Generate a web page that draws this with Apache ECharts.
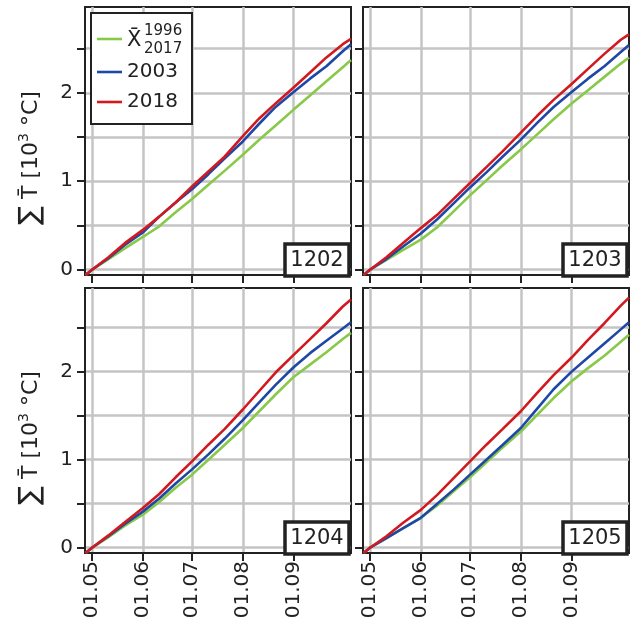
<!DOCTYPE html>
<html>
<head>
<meta charset="utf-8">
<script src="https://cdn.jsdelivr.net/npm/echarts@6/dist/echarts.min.js"></script>
<style>
  html, body { margin: 0; padding: 0; background: #fff; }
  #chart { width: 631px; height: 629px; }
</style>
</head>
<body>
<div id="chart"></div>
<script>
// Day of year for each sample point (1 May = 121 ... end of season)
const days = [117, 121, 131, 141, 152, 162, 172, 182, 192, 202, 213, 223, 233, 244, 254, 264, 274, 279];

// Month tick positions (day of year) and their labels
const tickDays = [121, 152, 182, 213, 244];
const tickLabels = ['01.05', '01.06', '01.07', '01.08', '01.09'];

// Y ticks (10^3 °C) and the labelled subset
const yTicks = [0, 0.5, 1, 1.5, 2, 2.5];
const yLabels = [0, 1, 2];

// Station ids
const stations = ['1202', '1203', '1204', '1205'];

// Series names
const seriesNames = ['mean 1996-2017', '2003', '2018'];

// Cumulative mean temperature sums, station 1202
const mean1202 = [-0.06, 0.0, 0.12, 0.24, 0.37, 0.49, 0.65, 0.80, 0.96, 1.12, 1.30, 1.47, 1.63, 1.81, 1.97, 2.13, 2.29, 2.37];
const y2003_1202 = [-0.06, 0.0, 0.13, 0.28, 0.42, 0.60, 0.76, 0.91, 1.08, 1.26, 1.45, 1.65, 1.84, 2.01, 2.16, 2.30, 2.47, 2.55];
const y2018_1202 = [-0.06, 0.0, 0.14, 0.30, 0.45, 0.60, 0.76, 0.94, 1.11, 1.28, 1.51, 1.71, 1.88, 2.06, 2.23, 2.40, 2.55, 2.61];

// Station 1203
const mean1203 = [-0.06, 0.0, 0.11, 0.22, 0.34, 0.48, 0.66, 0.84, 1.01, 1.18, 1.36, 1.53, 1.70, 1.88, 2.03, 2.18, 2.33, 2.40];
const y2003_1203 = [-0.06, 0.0, 0.12, 0.26, 0.41, 0.57, 0.75, 0.93, 1.10, 1.28, 1.47, 1.66, 1.84, 2.01, 2.16, 2.30, 2.46, 2.54];
const y2018_1203 = [-0.06, 0.0, 0.14, 0.30, 0.47, 0.62, 0.80, 0.98, 1.16, 1.34, 1.55, 1.74, 1.92, 2.10, 2.27, 2.44, 2.60, 2.66];

// Station 1204
const mean1204 = [-0.06, 0.0, 0.12, 0.25, 0.375, 0.52, 0.68, 0.83, 1.00, 1.17, 1.36, 1.55, 1.74, 1.94, 2.08, 2.22, 2.37, 2.44];
const y2003_1204 = [-0.06, 0.0, 0.13, 0.27, 0.41, 0.56, 0.73, 0.89, 1.06, 1.24, 1.45, 1.65, 1.85, 2.05, 2.21, 2.35, 2.49, 2.56];
const y2018_1204 = [-0.06, 0.0, 0.14, 0.29, 0.45, 0.61, 0.80, 0.98, 1.17, 1.35, 1.57, 1.78, 1.99, 2.19, 2.37, 2.55, 2.74, 2.82];

// Station 1205
const mean1205 = [-0.06, 0.0, 0.11, 0.22, 0.34, 0.48, 0.64, 0.80, 0.97, 1.14, 1.32, 1.51, 1.70, 1.89, 2.04, 2.18, 2.34, 2.42];
const y2003_1205 = [-0.06, 0.0, 0.11, 0.22, 0.34, 0.50, 0.66, 0.83, 1.00, 1.17, 1.36, 1.58, 1.80, 2.00, 2.16, 2.32, 2.48, 2.56];
const y2018_1205 = [-0.06, 0.0, 0.13, 0.28, 0.43, 0.60, 0.79, 0.98, 1.17, 1.35, 1.55, 1.76, 1.96, 2.16, 2.36, 2.55, 2.75, 2.84];

const panelData = [
  [mean1202, y2003_1202, y2018_1202],
  [mean1203, y2003_1203, y2018_1203],
  [mean1204, y2003_1204, y2018_1204],
  [mean1205, y2003_1205, y2018_1205]
];

const colors = ['#88c94a', '#1f48a6', '#d1191f'];
const ink = '#222222';
const gridGray = '#c4c4c4';
const font = 'DejaVu Sans';

// Panel layout (px)
const colLeft = [85, 363];
const colWidth = 266;
const rowTop = [7, 288];
const rowHeight = [268, 265];
const yRange = [[-0.06, 2.97], [-0.06, 2.95]];
const xRange = [116.7, 279];

const grids = [], xAxes = [], yAxes = [], series = [];

for (let p = 0; p < 4; p++) {
  const row = Math.floor(p / 2), col = p % 2;
  grids.push({
    left: colLeft[col], top: rowTop[row], width: colWidth, height: rowHeight[row],
    show: true, borderColor: ink, borderWidth: 2, backgroundColor: 'transparent'
  });
  xAxes.push({
    type: 'value', gridIndex: p, min: xRange[0], max: xRange[1],
    axisLine: { show: true, onZero: false, lineStyle: { color: ink, width: 2 } },
    axisTick: { show: true, customValues: tickDays, length: 8, lineStyle: { color: ink, width: 2 } },
    axisLabel: {
      show: row === 1, customValues: tickDays, rotate: 90, margin: 8,
      fontSize: 20, fontFamily: font, color: ink,
      formatter: v => tickLabels[tickDays.indexOf(v)] || ''
    },
    splitLine: { show: true, lineStyle: { color: gridGray, width: 2.5 } }
  });
  yAxes.push({
    type: 'value', gridIndex: p, min: yRange[row][0], max: yRange[row][1],
    axisLine: { show: true, onZero: false, lineStyle: { color: ink, width: 2 } },
    axisTick: { show: true, customValues: yTicks, length: 8, lineStyle: { color: ink, width: 2 } },
    axisLabel: {
      show: col === 0, customValues: yLabels, margin: 12,
      fontSize: 20, fontFamily: font, color: ink
    },
    splitLine: { show: true, lineStyle: { color: gridGray, width: 2.5 } }
  });
  panelData[p].forEach((vals, s) => {
    series.push({
      type: 'line', name: seriesNames[s], xAxisIndex: p, yAxisIndex: p,
      data: days.map((d, i) => [d, vals[i]]),
      showSymbol: false, symbol: 'none', silent: true,
      lineStyle: { color: colors[s], width: 2.6 },
      z: 2 + s
    });
  });
}

// Station label boxes (bottom right of each panel)
const graphics = [];
stations.forEach((name, p) => {
  const row = Math.floor(p / 2), col = p % 2;
  const right = colLeft[col] + colWidth - 2;
  const bottom = rowTop[row] + rowHeight[row] + 1;
  graphics.push({
    type: 'rect', z: 100,
    shape: { x: right - 64, y: bottom - 32, width: 64, height: 32 },
    style: { fill: '#fff', stroke: ink, lineWidth: 3.5 }
  });
  graphics.push({
    type: 'text', z: 101, x: right - 32, y: bottom - 15.5,
    style: { text: name, fill: ink, font: '21px ' + font, textAlign: 'center', textVerticalAlign: 'middle' }
  });
});

// Legend box
graphics.push({
  type: 'rect', z: 100,
  shape: { x: 91, y: 13, width: 101, height: 111 },
  style: { fill: '#fff', stroke: ink, lineWidth: 2 }
});
[39, 72, 102].forEach((ly, i) => {
  graphics.push({
    type: 'line', z: 101,
    shape: { x1: 97, y1: ly, x2: 122, y2: ly },
    style: { stroke: colors[i], lineWidth: 2.6 }
  });
});
graphics.push({
  type: 'text', z: 101, x: 127, y: 41,
  style: { text: 'X\u0304', fill: ink, font: '21px ' + font, textVerticalAlign: 'middle' }
});
graphics.push({
  type: 'text', z: 101, x: 144, y: 31,
  style: { text: '1996', fill: ink, font: '15px ' + font, textVerticalAlign: 'middle' }
});
graphics.push({
  type: 'text', z: 101, x: 144, y: 49,
  style: { text: '2017', fill: ink, font: '15px ' + font, textVerticalAlign: 'middle' }
});
graphics.push({
  type: 'text', z: 101, x: 127, y: 72,
  style: { text: '2003', fill: ink, font: '20px ' + font, textVerticalAlign: 'middle' }
});
graphics.push({
  type: 'text', z: 101, x: 127, y: 102,
  style: { text: '2018', fill: ink, font: '20px ' + font, textVerticalAlign: 'middle' }
});

// Y axis titles, one per row
[158, 438].forEach(cy => {
  graphics.push({
    type: 'text', z: 101, x: 31, y: cy, rotation: Math.PI / 2,
    style: {
      text: '{s|\u2211} T\u0304 [10{sup|3} \u00B0C]',
      fill: ink, font: '22px ' + font,
      textAlign: 'center', textVerticalAlign: 'middle',
      rich: {
        s: { fontSize: 28, fontFamily: font, fill: ink },
        sup: { fontSize: 14, fontFamily: font, fill: ink, verticalAlign: 'top', padding: [0, 0, 9, 0] }
      }
    }
  });
});

const chart = echarts.init(document.getElementById('chart'), null, { renderer: 'canvas' });
chart.setOption({
  animation: false,
  backgroundColor: '#fff',
  grid: grids,
  xAxis: xAxes,
  yAxis: yAxes,
  series: series,
  graphic: graphics
});
</script>
</body>
</html>
